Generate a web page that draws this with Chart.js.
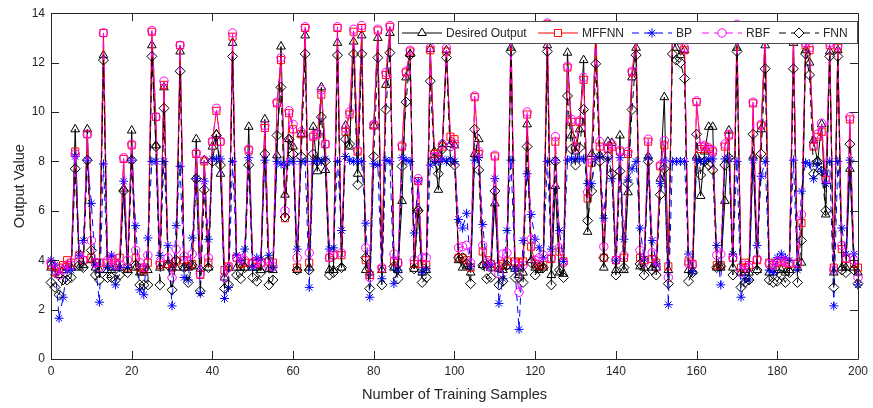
<!DOCTYPE html>
<html>
<head>
<meta charset="utf-8">
<script src="https://cdn.jsdelivr.net/npm/chart.js@4.4.1/dist/chart.umd.min.js"></script>
<style>
  html, body { margin: 0; padding: 0; background: #fff; }
  canvas { display: block; }
</style>
</head>
<body>
<canvas id="chart" width="873" height="408"></canvas>
<script>
// sample index (category axis)
const samples = Array.from({ length: 201 }, (_, i) => i);
const xTicks = [0, 20, 40, 60, 80, 100, 120, 140, 160, 180, 200];
const yTicks = [0, 2, 4, 6, 8, 10, 12, 14];

const desired = [
  3.7, 3.5, 3.4, 3.6, 3.7, 3.7, 9.3, 3.7, 3.8, 9.3,
  4.0, 3.7, 3.6, 12.3, 3.6, 3.6, 3.7, 3.7, 6.9, 3.6,
  9.25, 3.7, 3.5, 3.5, 3.6, 12.7, 8.65, 3.7, 11.0, 3.8,
  3.7, 3.7, 12.45, 3.7, 3.7, 3.75, 8.9, 3.65, 8.05, 3.7,
  8.6, 9.1, 7.5, 3.3, 3.7, 12.8, 3.7, 3.7, 3.7, 9.4,
  3.7, 3.7, 3.6, 9.7, 3.65, 3.6, 8.25, 12.65, 6.65, 8.9,
  8.6, 3.6, 9.1, 13.1, 3.7, 9.4, 7.6, 11.0, 7.65, 3.6,
  3.6, 12.8, 3.7, 9.45, 8.6, 12.85, 7.5, 13.1, 3.6, 3.5,
  9.45, 13.0, 3.6, 11.1, 13.2, 3.7, 3.6, 6.4, 11.4, 12.35,
  3.65, 6.1, 3.5, 3.6, 12.55, 8.4, 6.85, 8.7, 12.5, 8.7,
  8.65, 4.0, 3.7, 3.75, 3.5, 8.3, 8.9, 3.8, 3.8, 3.7,
  6.3, 3.65, 3.6, 3.75, 12.6, 3.65, 3.7, 3.5, 9.5, 4.0,
  3.7, 3.6, 3.7, 12.7, 3.4, 7.0, 3.5, 3.45, 12.4, 9.05,
  8.4, 9.3, 12.1, 5.15, 8.3, 13.0, 8.25, 3.7, 8.8, 8.75,
  3.6, 9.05, 3.6, 6.75, 11.4, 12.6, 3.75, 3.7, 8.2, 3.7,
  3.7, 7.3, 10.6, 3.6, 12.9, 12.6, 12.3, 12.5, 3.6, 3.55,
  8.2, 6.6, 8.4, 9.4, 9.4, 3.7, 3.7, 6.4, 9.25, 3.7,
  12.6, 3.5, 3.5, 3.5, 8.2, 3.6, 9.3, 12.7, 3.5, 3.5,
  3.6, 3.6, 3.5, 3.6, 12.8, 3.7, 3.9, 12.5, 12.0, 8.85,
  8.0, 9.5, 5.85, 12.45, 3.5, 12.5, 3.7, 3.7, 7.7, 3.7,
  3.5
];

const mffnn = [
  3.8, 3.5, 3.7, 3.8, 4.0, 3.9, 8.4, 4.2, 4.0, 9.1,
  4.1, 3.9, 3.9, 13.2, 3.9, 4.0, 3.9, 4.1, 8.1, 3.7,
  8.65, 4.1, 3.7, 3.6, 3.9, 13.25, 9.8, 3.8, 11.1, 3.85,
  3.7, 3.95, 12.7, 4.0, 3.75, 3.85, 8.3, 3.4, 8.0, 3.9,
  8.8, 10.05, 8.8, 3.6, 3.75, 13.05, 4.1, 3.85, 3.9, 8.45,
  3.9, 3.85, 3.9, 9.35, 3.95, 3.9, 10.35, 12.1, 5.7, 9.95,
  9.3, 3.7, 9.1, 13.4, 3.9, 9.0, 9.1, 10.7, 8.7, 4.1,
  4.2, 13.4, 4.2, 9.2, 9.9, 13.25, 8.4, 13.4, 4.0, 3.4,
  9.45, 13.3, 3.65, 11.5, 13.45, 3.95, 3.9, 8.6, 11.6, 12.45,
  3.85, 7.2, 3.85, 3.8, 12.5, 8.3, 8.1, 8.6, 12.45, 9.0,
  8.9, 4.1, 4.1, 4.0, 3.7, 10.6, 8.3, 4.35, 4.0, 3.85,
  8.2, 3.75, 3.85, 3.95, 13.3, 3.95, 3.9, 3.95, 9.9, 4.55,
  3.85, 3.75, 3.8, 13.55, 4.05, 8.8, 4.35, 3.95, 11.8, 9.6,
  8.6, 9.6, 11.3, 6.5, 7.95, 13.35, 8.6, 4.1, 8.5, 8.6,
  4.0, 8.4, 4.1, 8.3, 11.6, 13.0, 4.1, 4.0, 8.8, 4.05,
  3.9, 7.8, 8.65, 3.75, 13.1, 13.0, 12.9, 12.5, 3.95, 3.85,
  10.4, 8.5, 8.6, 8.5, 8.4, 3.8, 3.8, 8.6, 9.05, 4.1,
  13.4, 3.7, 3.9, 3.8, 10.35, 4.0, 9.45, 13.2, 3.9, 3.8,
  3.9, 3.95, 3.9, 3.85, 13.1, 3.85, 5.5, 12.7, 12.5, 8.6,
  9.0, 9.2, 7.25, 12.7, 3.7, 12.6, 4.45, 4.05, 9.7, 3.85,
  3.7
];

const bp = [
  4.0, 3.8, 1.65, 2.5, 3.6, 3.6, 8.2, 4.2, 4.8, 8.05,
  6.3, 3.8, 2.3, 7.9, 3.7, 4.2, 3.0, 3.7, 7.2, 3.7,
  8.05, 5.4, 2.8, 2.6, 4.9, 8.0, 8.0, 4.2, 8.0, 4.6,
  2.15, 5.4, 7.8, 3.3, 3.2, 4.9, 7.3, 2.65, 7.2, 4.85,
  8.1, 8.1, 8.1, 2.45, 2.9, 8.0, 4.2, 4.0, 4.45, 8.15,
  3.7, 4.1, 4.05, 8.05, 4.2, 3.7, 8.0, 7.9, 7.85, 8.0,
  8.0, 4.45, 8.0, 8.0, 2.9, 8.0, 8.05, 8.0, 8.1, 4.45,
  4.5, 8.0, 5.2, 8.2, 8.05, 8.0, 8.0, 8.0, 5.5, 2.5,
  7.9, 7.85, 3.25, 8.05, 8.0, 3.05, 3.6, 8.15, 8.05, 8.0,
  5.1, 7.2, 3.5, 3.65, 7.85, 8.0, 8.0, 8.1, 8.0, 8.1,
  8.0, 5.65, 5.3, 5.9, 3.75, 8.05, 8.15, 5.45, 3.75, 3.85,
  7.3, 2.25, 3.25, 5.2, 8.05, 3.65, 1.2, 4.8, 7.5, 5.85,
  4.85, 4.5, 4.1, 8.0, 4.45, 8.05, 5.2, 3.95, 8.05, 8.1,
  8.1, 8.1, 8.1, 7.1, 7.1, 8.1, 8.2, 5.7, 8.1, 7.3,
  4.0, 8.15, 4.85, 7.25, 7.7, 8.0, 5.3, 4.05, 8.15, 4.8,
  3.85, 7.1, 8.05, 2.2, 8.0, 8.0, 8.0, 8.0, 4.25, 3.55,
  8.05, 8.0, 8.0, 8.1, 8.1, 4.6, 3.0, 8.1, 8.1, 4.25,
  8.0, 2.5, 3.25, 3.2, 8.05, 4.6, 7.4, 8.0, 3.6, 3.5,
  4.1, 4.25, 4.1, 4.0, 8.05, 3.6, 6.8, 7.95, 7.9, 7.3,
  7.9, 7.6, 7.1, 8.0, 2.15, 8.0, 5.3, 4.25, 8.05, 4.25,
  3.0
];

const rbf = [
  3.9, 3.6, 3.4, 3.6, 3.8, 3.8, 8.3, 4.1, 4.0, 9.1,
  4.8, 3.9, 3.7, 13.2, 4.0, 4.1, 3.8, 3.8, 8.15, 4.0,
  8.7, 4.4, 3.9, 3.7, 4.2, 13.3, 9.8, 3.9, 11.25, 4.1,
  3.3, 4.45, 12.7, 4.15, 3.95, 4.25, 8.35, 3.45, 8.05, 4.1,
  8.8, 10.15, 8.8, 3.3, 3.7, 13.2, 4.1, 4.05, 4.0, 8.5,
  3.85, 3.95, 3.9, 9.45, 3.75, 3.75, 10.4, 12.2, 6.0, 10.05,
  9.5, 4.1, 9.2, 13.45, 4.3, 9.05, 9.1, 10.9, 8.7, 4.1,
  4.2, 13.45, 4.3, 9.35, 10.0, 13.35, 8.45, 13.5, 4.5, 3.3,
  9.5, 13.35, 3.7, 11.6, 13.5, 4.25, 3.9, 8.65, 11.65, 12.5,
  4.0, 7.3, 4.1, 4.1, 12.6, 8.2, 8.2, 8.7, 12.6, 8.6,
  8.7, 4.5, 4.55, 4.6, 3.9, 10.65, 8.4, 4.6, 3.9, 3.7,
  8.25, 3.45, 4.25, 4.3, 13.45, 3.85, 2.7, 3.8, 10.0, 4.85,
  4.0, 4.1, 4.2, 13.6, 4.1, 9.0, 4.5, 3.9, 11.85, 9.7,
  8.5, 9.65, 11.4, 6.75, 8.1, 13.4, 8.8, 4.55, 8.55, 8.7,
  4.0, 8.45, 4.2, 8.4, 11.65, 13.0, 4.4, 3.9, 8.9, 4.3,
  3.7, 7.85, 8.85, 3.3, 13.2, 13.1, 13.0, 12.6, 3.85, 3.8,
  10.45, 8.6, 8.65, 8.55, 8.45, 4.2, 4.25, 8.7, 9.1, 4.1,
  13.55, 3.5, 3.8, 3.7, 10.4, 4.05, 9.5, 13.3, 3.85, 3.8,
  3.95, 4.0, 3.95, 3.9, 13.15, 3.9, 5.85, 12.8, 12.6, 8.65,
  9.1, 9.55, 7.3, 12.8, 3.6, 12.7, 4.6, 4.1, 9.8, 4.0,
  3.3
];

const fnn = [
  3.1, 2.9, 2.6, 3.2, 3.2, 3.3, 7.7, 3.8, 3.7, 8.05,
  4.4, 3.4, 3.2, 12.1, 3.3, 3.3, 3.2, 3.4, 6.8, 3.5,
  8.05, 3.8, 3.0, 3.0, 3.0, 12.25, 8.6, 3.0, 10.15, 3.8,
  2.8, 4.0, 11.65, 3.7, 3.1, 3.8, 7.3, 2.75, 6.85, 3.7,
  8.0, 9.05, 7.85, 2.85, 3.0, 12.25, 3.4, 3.25, 3.7, 7.85,
  3.3, 3.15, 3.5, 8.3, 3.0, 3.2, 9.05, 11.0, 5.75, 8.9,
  8.3, 3.6, 8.2, 12.35, 3.6, 8.3, 8.0, 9.8, 8.0, 3.4,
  3.5, 12.3, 3.7, 8.9, 8.7, 12.35, 7.05, 12.35, 4.1, 2.85,
  8.2, 12.2, 3.0, 10.1, 12.4, 3.75, 3.25, 7.8, 10.4, 12.3,
  3.65, 6.0, 3.1, 3.3, 11.25, 8.1, 7.5, 8.5, 12.2, 8.0,
  7.85, 4.1, 4.1, 3.85, 3.05, 9.3, 7.65, 3.8, 3.25, 3.3,
  6.8, 3.0, 3.15, 3.8, 12.45, 3.3, 3.3, 3.1, 8.6, 3.9,
  3.4, 3.7, 3.7, 12.45, 3.0, 8.0, 3.6, 3.3, 10.65, 8.5,
  7.85, 8.55, 10.1, 5.6, 6.8, 11.95, 8.0, 4.1, 8.2, 7.5,
  3.4, 7.6, 3.7, 7.1, 10.1, 12.3, 3.85, 3.4, 8.0, 3.6,
  3.4, 6.65, 7.7, 3.05, 12.35, 12.1, 12.0, 11.35, 3.15, 3.5,
  9.1, 7.45, 8.0, 7.85, 7.65, 3.7, 3.75, 7.85, 8.15, 3.4,
  12.45, 2.9, 3.1, 3.2, 9.1, 3.6, 8.3, 11.75, 3.2, 3.1,
  3.15, 3.4, 3.1, 3.5, 11.75, 3.1, 4.8, 12.35, 11.5, 7.5,
  8.0, 7.6, 6.0, 12.25, 2.9, 12.25, 3.6, 3.5, 8.7, 3.6,
  3.05
];

const seriesNames = ['Desired Output', 'MFFNN', 'BP', 'RBF', 'FNN'];
const seriesColors = ['#000000', '#FF0000', '#0000FF', '#FF00FF', '#000000'];
const seriesMarkers = ['triangle', 'rect', 'star', 'circle', 'rectRot'];
const markerSize = [5, 5, 4.5, 4.2, 5];
const seriesDash = [[], [], [7, 5], [7, 5], [7, 5]];
const seriesValues = [desired, mffnn, bp, rbf, fnn];

const FONT = '"Liberation Sans", Arial, Helvetica, sans-serif';
const INK = '#262626';

Chart.defaults.font.family = FONT;
Chart.defaults.color = INK;

const datasets = seriesNames.map((name, k) => ({
  label: name,
  data: seriesValues[k],
  borderColor: seriesColors[k],
  backgroundColor: 'rgba(0,0,0,0)',
  borderWidth: 1,
  borderDash: seriesDash[k],
  pointStyle: seriesMarkers[k],
  pointRadius: markerSize[k],
  pointBorderColor: seriesColors[k],
  pointBackgroundColor: 'rgba(0,0,0,0)',
  pointBorderWidth: 1,
  tension: 0,
  clip: false,
  order: seriesNames.length - k
}));

// box around the axes and inward ticks, like the original
const axesFrame = {
  id: 'axesFrame',
  afterDatasetsDraw(chart) {
    const { ctx, chartArea: a, scales } = chart;
    const len = 8;
    ctx.save();
    ctx.strokeStyle = INK;
    ctx.lineWidth = 1;
    ctx.beginPath();
    ctx.rect(Math.round(a.left) + 0.5, Math.round(a.top) + 0.5,
             Math.round(a.right - a.left), Math.round(a.bottom - a.top));
    xTicks.forEach(v => {
      const px = Math.round(scales.x.getPixelForValue(v)) + 0.5;
      ctx.moveTo(px, a.bottom); ctx.lineTo(px, a.bottom - len);
      ctx.moveTo(px, a.top); ctx.lineTo(px, a.top + len);
    });
    yTicks.forEach(v => {
      const py = Math.round(scales.y.getPixelForValue(v)) + 0.5;
      ctx.moveTo(a.left, py); ctx.lineTo(a.left + len, py);
      ctx.moveTo(a.right, py); ctx.lineTo(a.right - len, py);
    });
    ctx.stroke();
    ctx.restore();
  }
};

// legend box inside the plot, line + marker per entry
const boxLegend = {
  id: 'boxLegend',
  afterDraw(chart) {
    const { ctx } = chart;
    const box = { x: 398.5, y: 21.5, w: 459, h: 22 };
    const cy = box.y + box.h / 2;
    const starts = [402, 538, 632, 702, 779];
    ctx.save();
    ctx.fillStyle = '#fff';
    ctx.fillRect(box.x, box.y, box.w, box.h);
    ctx.strokeStyle = '#4d4d4d';
    ctx.lineWidth = 1;
    ctx.strokeRect(box.x, box.y, box.w, box.h);
    ctx.font = '12px ' + FONT;
    ctx.textBaseline = 'middle';
    ctx.textAlign = 'left';
    seriesNames.forEach((name, k) => {
      const x0 = starts[k];
      ctx.strokeStyle = seriesColors[k];
      ctx.setLineDash(seriesDash[k]);
      ctx.beginPath();
      ctx.moveTo(x0, cy + 0.5);
      ctx.lineTo(x0 + 40, cy + 0.5);
      ctx.stroke();
      ctx.setLineDash([]);
      ctx.fillStyle = '#fff';
      Chart.helpers.drawPoint(ctx, {
        pointStyle: seriesMarkers[k],
        radius: markerSize[k],
        rotation: 0,
        borderWidth: 1
      }, x0 + 20, cy + 0.5);
      ctx.fillStyle = INK;
      ctx.fillText(name, x0 + 44, cy + 1);
    });
    ctx.restore();
  }
};

new Chart(document.getElementById('chart'), {
  type: 'line',
  data: { labels: samples, datasets },
  options: {
    responsive: false,
    animation: false,
    devicePixelRatio: 1,
    layout: { padding: { left: 0, right: 13, top: 10, bottom: 0 } },
    plugins: { legend: { display: false }, tooltip: { enabled: false } },
    scales: {
      x: {
        type: 'linear',
        min: 0, max: 200,
        afterFit(scale) { scale.height = 49; },
        afterBuildTicks(scale) { scale.ticks = xTicks.map(v => ({ value: v })); },
        grid: { display: false, drawTicks: false },
        border: { display: false },
        ticks: { padding: 5, font: { size: 12 }, color: INK, maxRotation: 0 },
        title: { display: true, text: 'Number of Training Samples', font: { size: 14.6 }, color: INK, padding: { top: 0, bottom: 4 } }
      },
      y: {
        min: 0, max: 14,
        afterFit(scale) { scale.width = 51; },
        afterBuildTicks(scale) { scale.ticks = yTicks.map(v => ({ value: v })); },
        grid: { display: false, drawTicks: false },
        border: { display: false },
        ticks: { padding: 6, font: { size: 12 }, color: INK },
        title: { display: true, text: 'Output Value', font: { size: 14.6 }, color: INK, padding: { top: 11, bottom: 0 } }
      }
    }
  },
  plugins: [axesFrame, boxLegend]
});
</script>
</body>
</html>
